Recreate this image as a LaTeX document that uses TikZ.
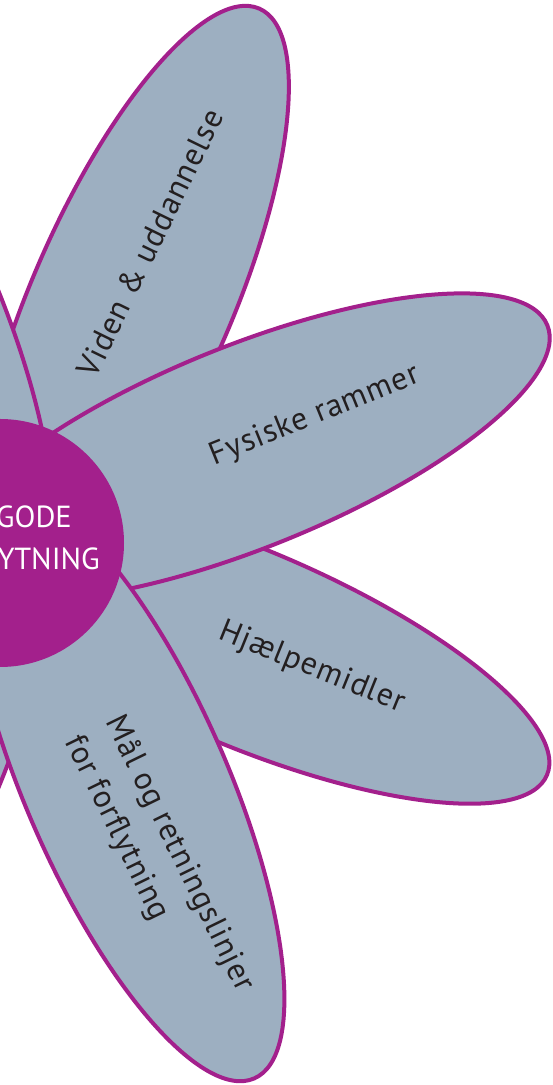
\documentclass[tikz,border=0pt]{standalone}
\usepackage{fontspec}
\setmainfont{PT Sans}
\newfontfamily\petalfont[LetterSpace=3.0]{PT Sans}
\definecolor{petalfill}{HTML}{9DAFC1}
\definecolor{plum}{HTML}{A3208C}
\definecolor{textdark}{HTML}{231F20}
\begin{document}
\begin{tikzpicture}[x=1pt,y=1pt,
  petal/.style={draw=plum, line width=4pt, fill=petalfill},
  lbl/.style={font=\petalfont\fontsize{32}{45}\selectfont, text=textdark, inner sep=0pt},
  ctr/.style={font=\fontsize{30.5}{42}\selectfont, text=white, inner sep=0pt}]
\useasboundingbox (0,0) rectangle (553,1085);
\clip (0,0) rectangle (553,1085);
\coordinate (C) at (0,542);
% petals, back to front
\foreach \cx/\cy/\ang/\ra/\rb in {132/785/66.4/318/100, -108/789/114/325/100, 245/438/-23/328/98, 246/638/22/325/101, -112/297/-115/325/101, 127/298/-66.4/318/101}
  \draw[petal, rotate around={\ang:(\cx,\cy)}] (\cx,\cy) ellipse [x radius=\ra, y radius=\rb];
% hub
\node[circle, fill=plum, minimum size=248pt, inner sep=0pt] (hub) at (C) {};
\node[ctr, anchor=base east] (t1) at (72,557) {GODE};
\node[ctr, anchor=base east] (t2) at (100,515) {YTNING};
% petal labels
\node[lbl, rotate=64] (v) at (150,842) {Viden \& uddannelse};
\node[lbl, rotate=22] (f) at (315,669) {Fysiske rammer};
\node[lbl, rotate=-22] (h) at (312,417) {Hjælpemidler};
\node[lbl, rotate=-64, align=left] (m) at (159,221) {Mål og retningslinjer\\for forflytning};
\end{tikzpicture}
\end{document}
